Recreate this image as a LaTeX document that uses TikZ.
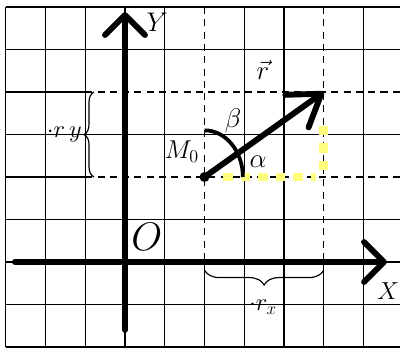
\RequirePackage{fix-cm}
\documentclass[tikz,border=0pt]{standalone}
\usepackage{amsmath, amssymb}
\usetikzlibrary{arrows.meta, decorations.pathreplacing}
\definecolor{lightyel}{RGB}{255,255,125}
\tikzstyle{gridln}=[line width=1.1pt]
\tikzstyle{dashln}=[line width=1.1pt, dash pattern=on 6pt off 4.5pt]
\tikzstyle{axis}=[line width=5pt, line cap=round, -{Straight Barb[length=0.6cm, width=1.2cm, round]}]
\tikzstyle{vec}=[line width=5pt, line cap=round, -{Straight Barb[length=0.9cm, width=1.2cm, round]}]
\tikzstyle{vx}=[shape=circle, minimum size=0.3cm, inner sep=0, fill=black]
\tikzstyle{proj}=[line width=7.5pt, lightyel, dash pattern=on 8pt off 7pt]
\tikzstyle{brc}=[line width=1pt, decorate]
\tikzstyle{lbl}=[font=\fontsize{23}{26}\selectfont, inner sep=0]

\begin{document}
\begin{tikzpicture}[x=1.1925cm, y=1.275cm]
\useasboundingbox (-3.145,-2.047) rectangle (6.918,6.165);
% grid
\foreach \i in {-3,-2,-1,0,1,3,4,6} \draw[gridln] (\i,-2) -- (\i,6);
\foreach \i in {2,5} {\draw[dashln] (\i,6) -- (\i,0); \draw[gridln] (\i,0) -- (\i,-2);}
\foreach \j in {-2,-1,0,1,3,5,6} \draw[gridln] (-3,\j) -- (6.918,\j);
\foreach \j in {2,4} {\draw[gridln] (-3,\j) -- (-1,\j); \draw[dashln] (-1,\j) -- (6.918,\j);}
% axes
\coordinate (ybot) at (0,-1.6);
\coordinate (ytop) at (0,5.88);
\coordinate (xlft) at (-2.77,0);
\coordinate (xrgt) at (6.59,0);
\draw[axis] (ybot) -- (ytop);
\draw[axis] (xlft) -- (xrgt);
\node[lbl] (Y) at (0.81,5.65) {$Y$};
\node[lbl, font=\fontsize{21}{24}\selectfont] (X) at (6.62,-0.68) {$X$};
\node[lbl, font=\fontsize{34}{38}\selectfont] (O) at (0.55,0.59) {$O$};
% projections
\coordinate (ph0) at (2.47,2);
\coordinate (ph1) at (4.8,2);
\coordinate (pv0) at (5,2.16);
\coordinate (pv1) at (5,3.29);
\draw[proj] (ph0) -- (ph1);
\draw[proj] (pv0) -- (pv1);
% vector
\node at (2,2)[vx](m0){};
\coordinate (tip) at (5,4);
\draw[vec] (m0.center) -- (tip);
\draw[line width=3.2pt] ([xshift=1.15cm]m0.center) arc[start angle=0, end angle=90, x radius=1.15cm, y radius=1.4cm];
\node[lbl, font=\fontsize{22}{25}\selectfont] (M) at (1.43,2.59) {$M_0$};
\node[lbl] (r) at (3.47,4.52) {$\vec{r}$};
\node[lbl] (b) at (2.72,3.32) {$\beta$};
\node[lbl] (a) at (3.35,2.35) {$\alpha$};
% braces
\draw[brc, decoration={brace, amplitude=0.3cm}] (-0.78,2) -- (-0.78,4);
\draw[brc, decoration={brace, amplitude=0.45cm}] (5,-0.19) -- (2,-0.19);
\node[lbl, font=\fontsize{21}{24}\selectfont, anchor=east] (ry) at (-1.08,3.0) {$\cdot r\,y$};
\node[lbl, font=\fontsize{21}{24}\selectfont] (rx) at (3.47,-1.06) {$\cdot r_x$};
\end{tikzpicture}
\end{document}
